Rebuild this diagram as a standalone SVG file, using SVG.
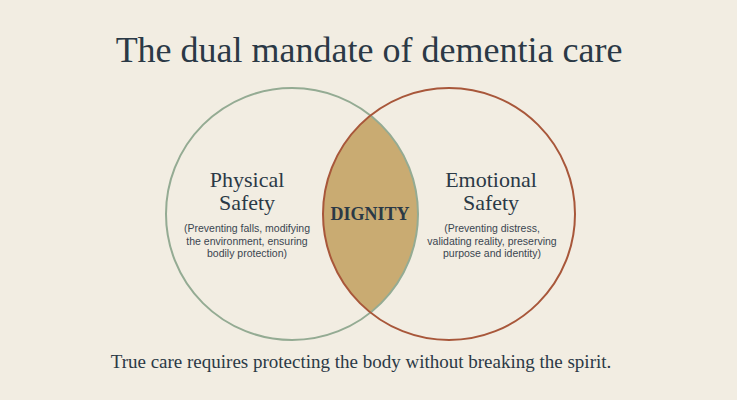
<svg xmlns="http://www.w3.org/2000/svg" width="737" height="400" viewBox="0 0 737 400">
<style>
.bg{fill:#f2ede2}
.title{font-family:"Liberation Serif",serif;font-size:36px;fill:#2b3946;text-anchor:middle}
.head{font-family:"Liberation Serif",serif;font-size:22px;fill:#2b3946;text-anchor:middle}
.sub{font-family:"Liberation Sans",sans-serif;font-size:10.5px;fill:#3a4550;text-anchor:middle}
.core{font-family:"Liberation Serif",serif;font-size:18px;font-weight:bold;fill:#2b3946;text-anchor:middle}
.foot{font-family:"Liberation Serif",serif;font-size:19px;fill:#2b3946;text-anchor:middle}
.circ{fill:none;stroke-width:2}
</style>
<rect class="bg" x="0" y="0" width="737" height="400"/>
<text class="title" x="369" y="62">The dual mandate of dementia care</text>
<g id="dignity">
<path d="M 370.5 115.4 A 126 126 0 0 1 370.5 312.6 A 126 126 0 0 1 370.5 115.4 Z" fill="#c9ab72"/>
</g>
<g id="physical">
<circle class="circ" cx="292" cy="214" r="126" stroke="#94ab93"/>
<text class="head" x="247" y="187">Physical</text>
<text class="head" x="247" y="210">Safety</text>
<text class="sub" x="247" y="232">(Preventing falls, modifying</text>
<text class="sub" x="247" y="245">the environment, ensuring</text>
<text class="sub" x="247" y="257">bodily protection)</text>
</g>
<g id="emotional">
<circle class="circ" cx="449" cy="214" r="126" stroke="#a8573a"/>
<text class="head" x="491" y="187">Emotional</text>
<text class="head" x="491" y="210">Safety</text>
<text class="sub" x="492" y="232">(Preventing distress,</text>
<text class="sub" x="492" y="245">validating reality, preserving</text>
<text class="sub" x="492" y="257">purpose and identity)</text>
</g>
<g id="dignity-label">
<text class="core" x="370" y="220">DIGNITY</text>
</g>
<g id="connectors"/>
<text class="foot" x="361" y="368">True care requires protecting the body without breaking the spirit.</text>
</svg>
